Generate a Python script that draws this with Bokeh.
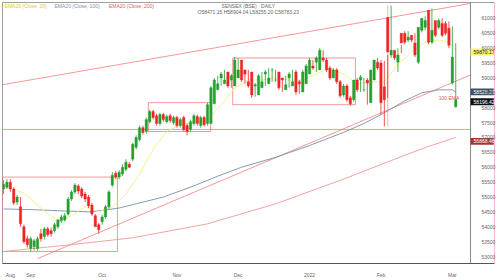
from bokeh.plotting import figure
from bokeh.models import ColumnDataSource, FixedTicker, Range1d, Label
from bokeh.embed import file_html
from bokeh.resources import INLINE

# ---------------- data (daily candles, trading-day index) ----------------
opens = [55270,55330,55500,55270,54830,54670,54000,53600,53270,53330,53270,53770,53670,53930,53870,53870,54000,54200,54230,54430,54930,55170,55370,55270,55100,55000,54730,54370,54070,54170,54330,54670,55400,55800,55670,55770,55930,56100,56270,56670,56930,57330,57200,57530,57870,57730,57470,57770,57530,57730,57500,57670,57400,57670,57400,57270,57470,57700,57400,57670,57470,57470,58130,58600,59000,58800,59200,58930,58730,59000,59600,59270,58870,59200,58730,58430,58670,59130,58800,59270,58930,59200,59000,58600,59000,58730,59200,58870,58530,58800,59130,59400,59530,59270,59670,59600,59330,59000,59270,58870,58430,58730,58330,58270,58930,58930,58600,58930,58170,58930,59530,59500,58700,61030,59770,59930,59530,60500,60500,60270,60430,60170,59530,60600,60700,61270,60200,60930,60700,60830,60830,60670,58830,58030]
closes = [55430,55500,55270,54800,55000,54100,53500,53400,53600,53530,53600,53600,53930,53730,53770,54070,54230,54330,54370,54930,55170,55400,55200,55030,54930,54700,54430,54000,53900,54330,54670,55170,55730,55670,55830,56000,56170,56000,56770,57000,57330,57170,57600,57870,57670,57470,57770,57600,57700,57570,57670,57400,57600,57270,57200,57530,57730,57470,57670,57430,58100,58670,58930,58800,59130,58930,58730,59070,59600,59270,58930,59130,58730,58430,58770,59070,58870,59200,59000,59270,58930,58670,58930,58770,59130,58870,58530,58800,59200,59400,59600,59330,59670,59930,59600,59270,59000,59270,58870,58400,58730,58270,58130,58930,58600,59030,58600,58830,59270,59600,59330,58170,58270,59870,59930,59670,59770,60170,60200,60370,60270,59770,60700,61000,60930,60200,60600,60430,60930,60430,60500,60100,59700,58270]
highs = [55570,55600,55600,55330,55070,55000,54070,53700,53670,53600,53670,53930,54000,54000,53970,54130,54270,54400,54470,55000,55230,55470,55430,55330,55170,55070,54800,54430,54130,54400,54730,55230,55830,55870,55900,56100,56270,56170,56830,57070,57400,57400,57670,57930,57930,57800,57830,57830,57770,57800,57730,57730,57670,57730,57470,57600,57800,57770,57730,57730,58170,58730,59000,59070,59200,59270,59000,59130,59700,59670,59330,59200,59270,58870,58830,59130,59200,59270,59330,59330,59270,59070,59000,59070,59200,59270,59270,58930,59270,59470,59670,59600,59730,60000,59930,59670,59400,59330,59330,58930,58800,58800,58400,58330,59000,59100,59000,59000,58230,59330,59670,59600,59570,58330,61430,59930,60000,59830,60570,60570,60430,60500,60230,60770,61070,61100,61330,60670,61000,61000,60900,60900,60730,60170,58370]
lows = [55100,55270,55170,54730,54730,54000,53430,53300,53170,53200,53200,53500,53570,53670,53670,53800,53930,54130,54170,54370,54870,55100,55100,54970,54830,54630,54370,54170,53770,54070,54270,54600,55330,55600,55600,55700,55870,55970,56200,56600,56870,57100,57130,57470,57600,57400,57400,57530,57470,57500,57430,57330,57330,57200,57070,57200,57400,57400,57330,57370,57400,58070,58530,58730,58730,58870,58670,58670,58930,59200,58870,58800,58670,58330,58370,58600,58800,58730,59000,58870,58870,58600,58530,58700,58670,58800,58430,58470,58730,59070,59330,59270,59200,59600,59530,59200,58930,59000,58800,58330,58370,58200,58070,58200,58530,58530,58530,58100,58830,59130,59270,57770,57370,59770,59670,59600,59200,60100,60130,60200,60200,59700,59470,60530,60600,60130,60130,60370,60630,60370,60430,60000,58770,58000]

ema20 = [55370,55130,54530,54200,54370,54670,54500,54670,55100,55770,56600,57200,57430,57500,57600,58100,58670,58930,58930,59000,58930,58930,59130,59330,59130,58800,58870,58870,59430,59870,60200,60270,60200,59930]
ema20_x = [0,6,12,16,20,24,28,32,36,40,44,48,52,56,60,64,68,72,76,80,84,88,92,96,100,104,108,112,116,120,124,128,131,133]
ema100 = [54600,54570,54530,54500,54630,54800,55000,55330,55700,56000,56330,56730,57170,57470,57830,58230,58500,58600,58600,58530]
ema100_x = [0,10,18,26,34,40,47,55,63,70,80,90,100,106,112,118,123,128,132,133]
ema200 = [53170,53400,53630,54100,54770,55600,56270,56700,57000]
ema200_x = [0,20,38,60,80,100,115,125,133]

price_ticks = list(range(53000, 61001, 500))
month_ticks = [2, 8, 29, 51, 69, 90, 111, 132]
month_labels = ["Aug", "Sep", "Oct", "Nov", "Dec", "2022", "Feb", "Mar"]

# drawings (index, price)
upper_line = ([-0.3, 137.35], [58770, 61500])
lower_line = ([10, 137.35], [52930, 59100])
hline_price = 57270
box_a = (-0.3, 33.5, 53170, 55670)
box_b = (42.6, 60.9, 57200, 58170)
box_c = (67.4, 103.5, 58100, 59670)
vline = (113, 57370, 61430)

last_tags = [(59870, "59870.17", "#f7f36a", "#222222"),
             (58530, "58528.23", "#3d5068", "#ffffff"),
             (58200, "58196.42", "#111111", "#ffffff"),
             (56870, "56868.46", "#a83232", "#ffffff")]

X_END_CHART = 137.35   # price-scale separator
X_END = 144.4          # right edge of the scale strip

# ---------------- figure ----------------
p = figure(width=500, height=280, output_backend="svg", toolbar_location=None,
           x_range=Range1d(-0.3, X_END), y_range=Range1d(52767, 61533),
           y_axis_location="right",
           min_border_left=2, min_border_right=6, min_border_top=2, min_border_bottom=15)
p.grid.visible = False
p.outline_line_color = "#a0a0a0"
p.background_fill_color = "white"
p.border_fill_color = "white"

idx = list(range(len(opens)))
inc = [c >= o for o, c in zip(opens, closes)]
colors = ["#22a02e" if u else "#f02424" for u in inc]
src = ColumnDataSource(dict(x=idx, o=opens, c=closes, h=highs, l=lows, col=colors,
                            top=[max(o, c) for o, c in zip(opens, closes)],
                            bot=[min(o, c) for o, c in zip(opens, closes)]))

LC = "#f06a6a"
for (x0, x1, y0, y1) in (box_a, box_b, box_c):
    p.quad(left=x0, right=x1, bottom=y0, top=y1, fill_color=None,
           line_color=LC, line_width=0.7)
p.line(upper_line[0], upper_line[1], color=LC, line_width=0.7)
p.line(lower_line[0], lower_line[1], color=LC, line_width=0.7)
p.line([-0.3, X_END_CHART], [hline_price, hline_price], color=LC, line_width=0.7)
p.segment(x0=vline[0], y0=vline[1], x1=vline[0], y1=vline[2], color="#f49090", line_width=0.7)

# EMAs
p.line(ema200_x, ema200, color="#ee9a9a", line_width=0.9)
p.line(ema100_x, ema100, color="#7890aa", line_width=0.9)
p.line(ema20_x, ema20, color="#f3ee86", line_width=0.9)

# candles
p.segment(x0="x", y0="h", x1="x", y1="l", color="col", line_width=0.8, source=src)
p.vbar(x="x", width=0.7, top="top", bottom="bot", fill_color="col", line_color="col",
       line_width=0.4, source=src)

# price scale strip: separator and tags
p.line([X_END_CHART, X_END_CHART], [52767, 61533], color="#8a8a8a", line_width=1)
tag_src = ColumnDataSource(dict(y=[t[0] for t in last_tags], txt=[t[1] for t in last_tags],
                                bg=[t[2] for t in last_tags], fg=[t[3] for t in last_tags]))
p.rect(x=(X_END_CHART + X_END) / 2 - 0.1, y="y", width=X_END - X_END_CHART - 0.2, height=230,
       fill_color="bg", line_color=None, source=tag_src)
p.text(x=X_END_CHART + 0.9, y="y", text="txt", text_color="fg", text_font_size="5px",
       text_baseline="middle", source=tag_src)

# axes
ya = p.yaxis[0]
ya.ticker = FixedTicker(ticks=price_ticks)
ya.major_label_text_font_size = "5px"
ya.major_label_text_color = "#666666"
ya.major_tick_line_color = None
ya.minor_tick_line_color = None
ya.axis_line_color = "#f4b8d8"
ya.axis_line_width = 1.2
ya.major_label_standoff = -19

xa = p.xaxis[0]
xa.ticker = FixedTicker(ticks=month_ticks)
xa.major_label_overrides = {t: s for t, s in zip(month_ticks, month_labels)}
xa.major_label_text_font_size = "5px"
xa.major_label_text_color = "#666666"
xa.major_tick_line_color = None
xa.minor_tick_line_color = None
xa.axis_line_color = "#555555"
xa.major_label_standoff = 2

p.add_layout(Label(x=128, y=58330, text="100 EMA", text_font_size="5px",
                   text_color="#e05050", text_baseline="middle"))

# legend & title
leg = [("EMA20 (Close, 20)", "#d9cf1a", 0.3), ("EMA20 (Close, 100)", "#7c93ad", 15),
       ("EMA20 (Close, 200)", "#e06060", 31)]
for t, c, x in leg:
    p.add_layout(Label(x=x, y=61430, text=t, text_font_size="5px", text_color=c,
                       text_baseline="middle"))
p.add_layout(Label(x=72, y=61430, text="SENSEX (BSE) · DAILY", text_font_size="5px",
                   text_color="#666666", text_baseline="middle", text_align="center"))
p.add_layout(Label(x=72, y=61200, text="O58471.15 H58904.04 L58255.20 C58783.23",
                   text_font_size="5px", text_color="#666666", text_baseline="middle",
                   text_align="center"))

open("out.html", "w").write(file_html(p, INLINE))
